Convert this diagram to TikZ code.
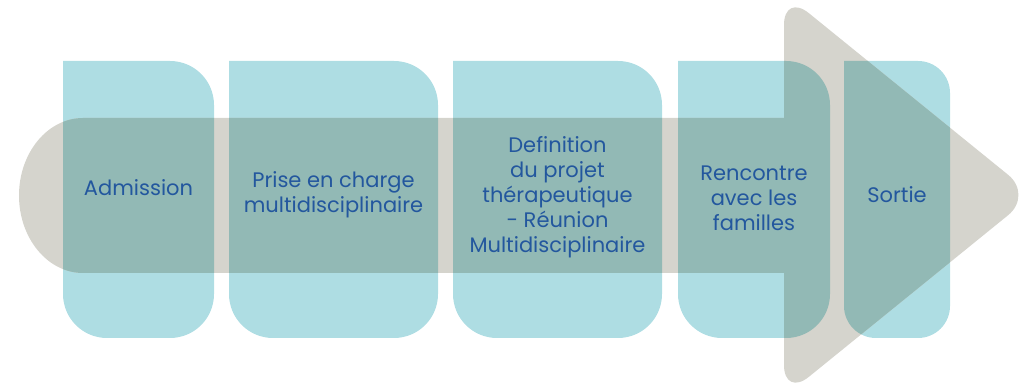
\documentclass[tikz,border=0pt]{standalone}
\usepackage{fontspec}
\setmainfont{Poppins}
\usepackage{tikz}
\definecolor{boxteal}{RGB}{174,221,227}
\definecolor{arrowgray}{RGB}{213,212,205}
\definecolor{overlapteal}{RGB}{146,185,181}
\definecolor{textblue}{RGB}{35,87,158}
\newcommand{\stepboxpath}[3]{(#1,324) -- ({#2-#3},324) arc[start angle=90,end angle=0,radius=#3] -- (#2,{47+#3}) arc[start angle=0,end angle=-90,radius=#3] -- ({#1+#3},47) arc[start angle=270,end angle=180,radius=#3] -- cycle}

\begin{document}
\begin{tikzpicture}[x=1pt,y=1pt,
  steplabel/.style={text=textblue,align=center,font=\fontsize{21}{25}\selectfont}]
\useasboundingbox (0,0) rectangle (1025,385);
% boxes
\foreach \xa/\xb/\r in {63/214/44,229/438/44,453/662/44,678/830/44,844/950/32}
  \fill[boxteal] \stepboxpath{\xa}{\xb}{\r};
% arrow
\fill[arrowgray] (83,267) -- (786,267) -- (786,112) -- (83,112) arc[start angle=270,end angle=90,x radius=64,y radius=77.5] -- cycle;
\fill[arrowgray,rounded corners=32] (784,392) -- (1033,190) -- (784,-12) -- cycle;
% overlap
\begin{scope}
\clip (83,267) -- (786,267) -- (786,112) -- (83,112) arc[start angle=270,end angle=90,x radius=64,y radius=77.5] -- cycle;
\foreach \xa/\xb/\r in {63/214/44,229/438/44,453/662/44,678/830/44,844/950/32}
  \fill[overlapteal] \stepboxpath{\xa}{\xb}{\r};
\end{scope}
\begin{scope}
\clip[rounded corners=32] (784,392) -- (1033,190) -- (784,-12) -- cycle;
\foreach \xa/\xb/\r in {63/214/44,229/438/44,453/662/44,678/830/44,844/950/32}
  \fill[overlapteal] \stepboxpath{\xa}{\xb}{\r};
\end{scope}
% labels
\node[steplabel] (admission) at (138.5,197) {Admission};
\node[steplabel] (prise) at (333.5,190) {Prise en charge\\multidisciplinaire};
\node[steplabel] (projet) at (557.5,188) {Definition\\du projet\\thérapeutique\\- Réunion\\Multidisciplinaire};
\node[steplabel] (rencontre) at (754,187) {Rencontre\\avec les\\familles};
\node[steplabel] (sortie) at (897,190) {Sortie};
\end{tikzpicture}
\end{document}
